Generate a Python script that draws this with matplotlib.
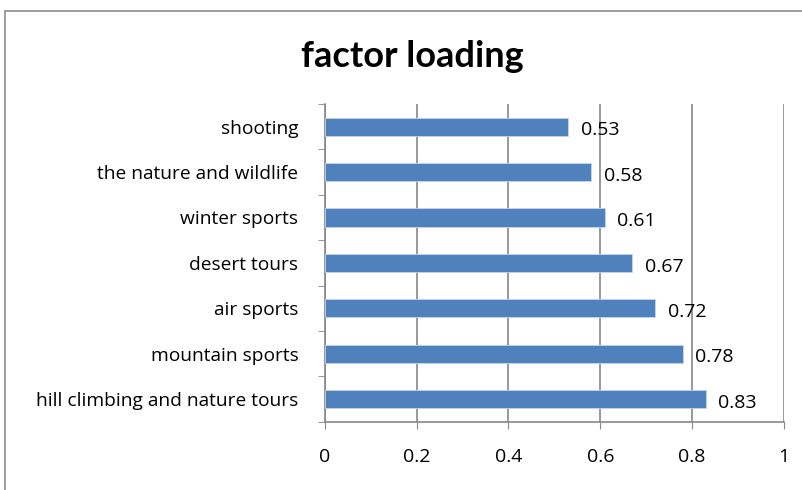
import matplotlib.pyplot as plt
from matplotlib.patches import Rectangle

# datos
categorias = ["hill climbing and nature tours", "mountain sports", "air sports",
              "desert tours", "winter sports", "the nature and wildlife", "shooting"]
valores = [0.83, 0.78, 0.72, 0.67, 0.61, 0.58, 0.53]
ticks_x = [0, 0.2, 0.4, 0.6, 0.8, 1]
ticks_lbl = ["0", "0.2", "0.4", "0.6", "0.8", "1"]

plt.rcParams["font.family"] = ["Open Sans", "DejaVu Sans"]

fig = plt.figure(figsize=(8.02, 4.9), dpi=100)
ax = fig.add_axes([0.405, 0.139, 0.5725, 0.649])

# marco del grafico estilo excel
fig.patches.append(Rectangle((5 / 802, -0.1), 1.2, (490 - 11) / 490 + 0.1,
                             transform=fig.transFigure, fill=False,
                             edgecolor="#8c8c8c", lw=1.2))

y = list(range(len(categorias)))
ax.barh(y, valores, height=0.4, color="#4f81bd", edgecolor="#c6d4e8", lw=0.6, zorder=3)
for yi, v in zip(y, valores):
    ax.text(v + 0.027, yi - 0.08, f"{v:.2f}", va="center", ha="left", fontsize=14, zorder=4)

ax.set_xlim(0, 1)
ax.set_ylim(-0.5, len(categorias) - 0.5)
ax.set_xticks(ticks_x)
ax.set_xticklabels(ticks_lbl, fontsize=14)
ax.set_yticks(y)
ax.set_yticklabels(categorias, fontsize=13.8)
ax.tick_params(axis="y", length=0, pad=19)
ax.tick_params(axis="x", length=5, color="#868686", pad=14)
ax.set_yticks([i - 0.5 for i in range(len(categorias) + 1)], minor=True)
ax.tick_params(axis="y", which="minor", length=5, color="#868686")
ax.grid(axis="x", color="#868686", lw=1.2, zorder=0)

for s in ["top", "right"]:
    ax.spines[s].set_visible(False)
for s in ["left", "bottom"]:
    ax.spines[s].set_color("#868686")
    ax.spines[s].set_linewidth(1.2)

fig.text(0.514, 0.884, "factor loading", ha="center", va="center",
         fontsize=26, fontweight="bold", family=["Lato", "DejaVu Sans"])

fig.savefig("out.png", dpi=100)
